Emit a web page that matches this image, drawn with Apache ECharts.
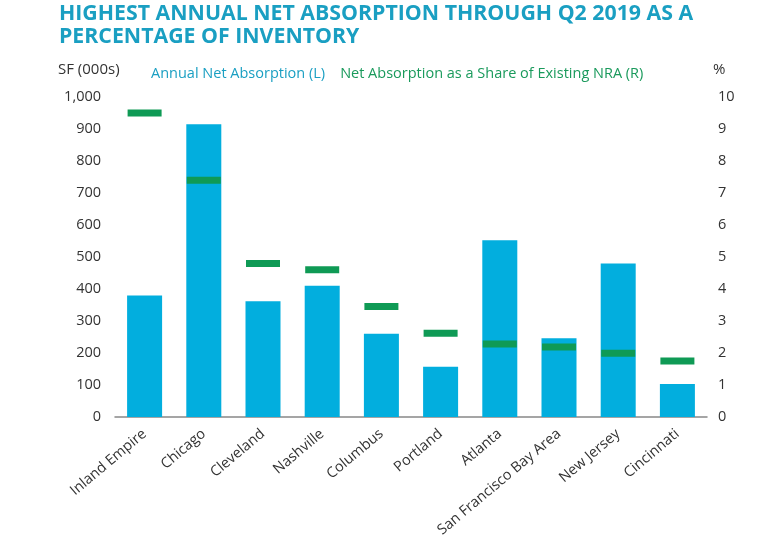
<!DOCTYPE html>
<html>
<head>
<meta charset="utf-8">
<script src="https://cdn.jsdelivr.net/npm/echarts@6/dist/echarts.min.js"></script>
<style>html,body{margin:0;padding:0;background:#fff;}#c{width:768px;height:551px;}</style>
</head>
<body>
<div id="c"></div>
<script>
const categories = ['Inland Empire','Chicago','Cleveland','Nashville','Columbus','Portland','Atlanta','San Francisco Bay Area','New Jersey','Cincinnati'];
const netAbsorption = [380, 915, 362, 410, 260, 157, 552, 246, 480, 103];
const shareOfNRA = [9.5, 7.4, 4.8, 4.6, 3.45, 2.62, 2.28, 2.19, 1.99, 1.75];
const leftTicks = [0, 1000, 100];
const rightTicks = [0, 10, 1];

const FONT = '"Open Sans", Lato, sans-serif';
const chart = echarts.init(document.getElementById('c'));
chart.setOption({
  backgroundColor: '#fff',
  title: {
    text: 'HIGHEST ANNUAL NET ABSORPTION THROUGH Q2 2019 AS A\nPERCENTAGE OF INVENTORY',
    left: 54, top: -3,
    textStyle: { fontFamily: FONT, fontSize: 21.3, fontWeight: 'bold', color: '#1a9fc2', lineHeight: 23 }
  },
  legend: {
    left: 141, top: 61,
    icon: 'none', itemWidth: 0, itemGap: 10,
    textStyle: { fontFamily: FONT, fontSize: 14.5 },
    data: [
      { name: 'Annual Net Absorption (L)', textStyle: { color: '#1a9fc2' } },
      { name: 'Net Absorption as a Share of Existing NRA (R)', textStyle: { color: '#1a9a5c' } }
    ]
  },
  graphic: [
    { type: 'text', left: 58, top: 62, style: { text: 'SF (000s)', fontFamily: FONT, fontSize: 15, fill: '#333' } },
    { type: 'text', left: 713, top: 62, style: { text: '%', fontFamily: FONT, fontSize: 15, fill: '#333' } }
  ],
  grid: { left: 115, right: 61, top: 97, bottom: 134 },
  xAxis: {
    type: 'category', data: categories,
    axisLine: { lineStyle: { color: '#888', width: 1.5 } },
    axisTick: { show: false },
    axisLabel: { rotate: 40, margin: 15, interval: 0, fontFamily: FONT, fontSize: 14.5, color: '#333' }
  },
  yAxis: [
    { type: 'value', min: leftTicks[0], max: leftTicks[1], interval: leftTicks[2],
      splitLine: { show: false }, axisLine: { show: false }, axisTick: { show: false },
      axisLabel: { margin: 14, fontFamily: FONT, fontSize: 14.5, color: '#333',
        formatter: v => v.toLocaleString('en-US') } },
    { type: 'value', min: rightTicks[0], max: rightTicks[1], interval: rightTicks[2],
      splitLine: { show: false }, axisLine: { show: false }, axisTick: { show: false },
      axisLabel: { margin: 11, fontFamily: FONT, fontSize: 14.5, color: '#333' } }
  ],
  series: [
    { name: 'Annual Net Absorption (L)', type: 'bar', data: netAbsorption, barWidth: 35,
      itemStyle: { color: '#02aede' }, yAxisIndex: 0 },
    { name: 'Net Absorption as a Share of Existing NRA (R)', type: 'scatter', data: shareOfNRA,
      yAxisIndex: 1, symbol: 'rect', symbolSize: [34, 7], itemStyle: { color: '#0f9a55', opacity: 1 }, z: 5 }
  ],
  animation: false
});
</script>
</body>
</html>
